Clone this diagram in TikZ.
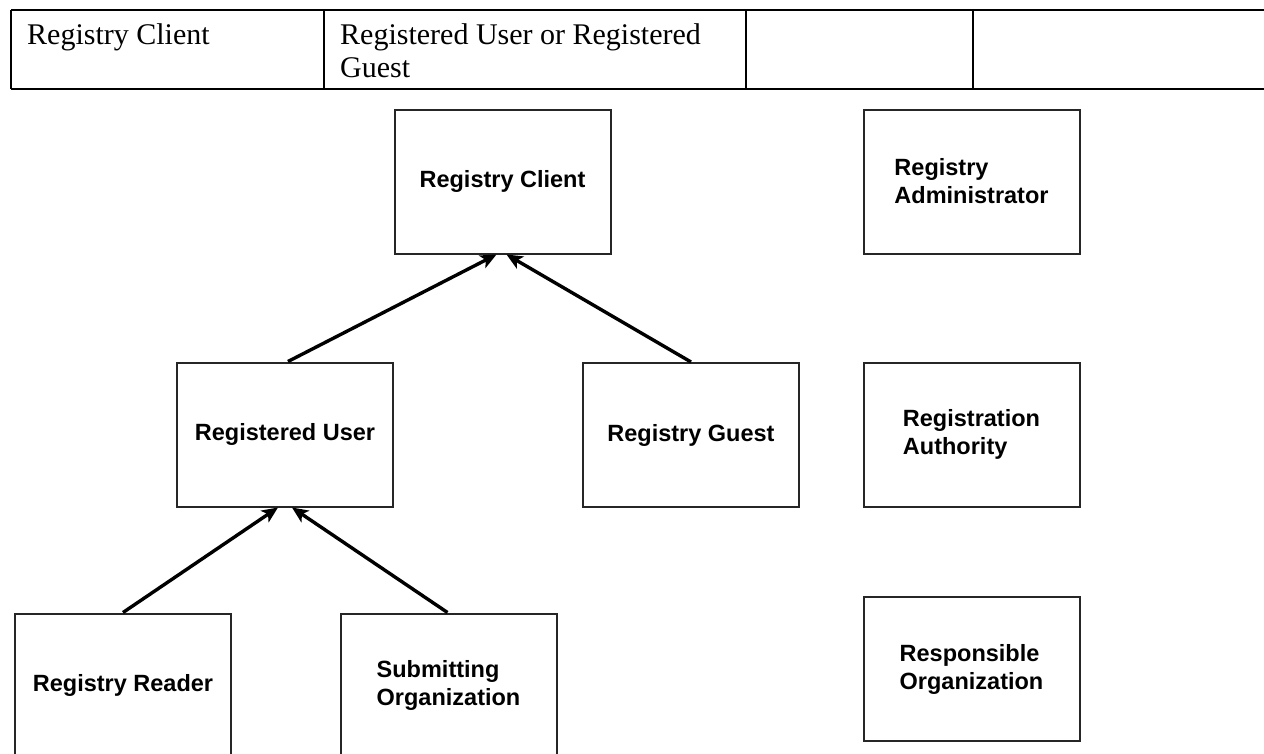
\documentclass[tikz,border=0pt]{standalone}
\usepackage{fontspec}
\setmainfont{Liberation Serif}
\newfontfamily\boxfont{Liberation Sans}
\usetikzlibrary{arrows.meta}
\begin{document}
\begin{tikzpicture}[x=1pt,y=-1pt,
  box/.style={draw=black!85, line width=2pt, minimum width=216pt, minimum height=144pt,
    inner sep=0pt, font=\boxfont\bfseries\fontsize{23.5}{28}\selectfont, align=left},
  gen/.style={line width=3.4pt, -{Stealth[length=16pt,width=14pt,inset=4pt]}},
  cell/.style={anchor=base west, inner sep=0pt, font=\fontsize{30}{33}\selectfont, align=left},
  rule/.style={line width=1.6pt}]
\useasboundingbox (0,0) rectangle (1264,753);
\clip (0,0) rectangle (1264,753);
% table
\draw[rule] (11,10) -- (1270,10);
\draw[rule] (11,89) -- (1270,89);
\foreach \cx in {11,324,746,973} \draw[rule] (\cx,10) -- (\cx,89);
\node[cell] (t1) at (27,44) {Registry Client};
\node[cell] (t2) at (340,77) {Registered User or Registered\\Guest};
% boxes
\node[box] (rc) at (502.5,181.5) {Registry Client};
\node[box] (ru) at (285,434.5) {Registered User};
\node[box] (rg) at (691,435) {Registry Guest};
\node[box] (ra) at (971.5,181.5) {Registry\\Administrator};
\node[box] (rauth) at (971.5,434.5) {Registration\\Authority};
\node[box] (ro) at (971.5,669) {Responsible\\Organization};
\node[box] (rr) at (123,685.5) {Registry Reader};
\node[box] (so) at (448.5,685.5) {Submitting\\Organization};
% connectors
\draw[gen] ([xshift=3pt]ru.north) -- ([xshift=-6pt]rc.south);
\draw[gen] (rg.north) -- ([xshift=4pt]rc.south);
\draw[gen] (rr.north) -- ([xshift=-7pt]ru.south);
\draw[gen] ([xshift=-1pt]so.north) -- ([xshift=7pt]ru.south);
\end{tikzpicture}
\end{document}
